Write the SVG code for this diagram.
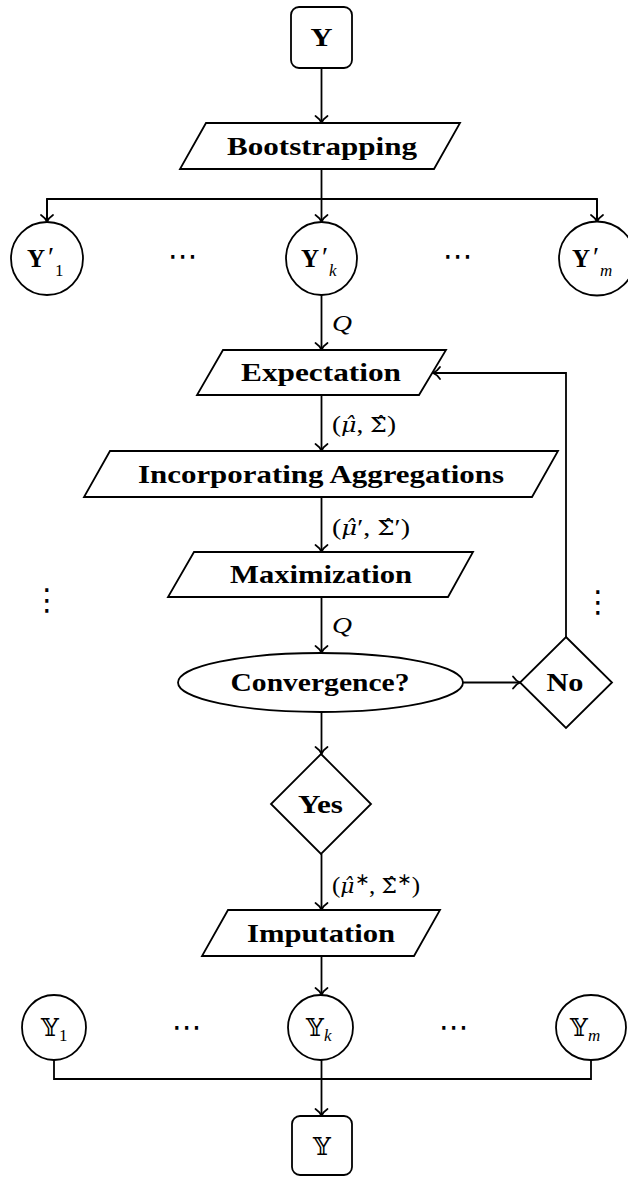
<svg xmlns="http://www.w3.org/2000/svg" width="628" height="1177" viewBox="0 0 628 1177">
<defs>
<marker id="arr" markerUnits="userSpaceOnUse" orient="auto" refX="0" refY="0" markerWidth="20" markerHeight="20" viewBox="-10 -10 20 20" overflow="visible">
<path d="M-7,-6 C-4.5,-2.2 -1.6,-0.6 0,0 C-1.6,0.6 -4.5,2.2 -7,6" fill="none" stroke="#000" stroke-width="1.8" stroke-linecap="round"/>
</marker>
<style>
.sh{fill:#fff;stroke:#000;stroke-width:1.8}
.ln{fill:none;stroke:#000;stroke-width:1.8}
.ar{marker-end:url(#arr)}
.bt{font-family:"Liberation Serif",serif;font-weight:bold;font-size:26px;fill:#000}
.mi{font-family:"Liberation Serif",serif;font-style:italic;font-size:24px;fill:#000}
.mr{font-family:"Liberation Serif",serif;font-size:24px;fill:#000}
.gi{font-family:"DejaVu Serif",serif;font-style:italic;font-size:21px;font-weight:normal}
.gu{font-family:"DejaVu Serif",serif;font-style:normal;font-size:21px;font-weight:normal}
.by{font-family:"Liberation Serif",serif;font-weight:bold;font-size:25px;fill:#000}
.pr{font-family:"Liberation Serif",serif;font-size:28px;font-weight:normal;fill:#000}
.sub{font-family:"Liberation Serif",serif;font-size:17px;font-weight:normal;fill:#000}
.subi{font-family:"Liberation Serif",serif;font-style:italic;font-weight:normal;font-size:17px;fill:#000}
.ds{font-family:"DejaVu Serif","DejaVu Sans",serif;font-size:25px;fill:#000}
.dots{font-family:"DejaVu Sans",sans-serif;font-size:30px;fill:#000}
</style>
</defs>

<g id="connectors">
<line class="ln ar" x1="321.5" y1="68" x2="321.5" y2="123"/>
<polyline class="ln" points="321.5,169 321.5,199"/>
<polyline class="ln" points="47,222 47,199 597,199 597,222"/>
<line class="ln ar" x1="47" y1="199" x2="47" y2="222"/>
<line class="ln ar" x1="321.5" y1="199" x2="321.5" y2="222"/>
<line class="ln ar" x1="597" y1="199" x2="597" y2="222"/>
<line class="ln ar" x1="321.5" y1="295" x2="321.5" y2="350"/>
<line class="ln ar" x1="321.5" y1="395" x2="321.5" y2="451"/>
<line class="ln ar" x1="321.5" y1="497" x2="321.5" y2="552"/>
<line class="ln ar" x1="321.5" y1="597" x2="321.5" y2="653"/>
<line class="ln ar" x1="463" y1="682.5" x2="520" y2="682.5"/>
<polyline class="ln ar" points="566,637 566,373 433,373"/>
<line class="ln ar" x1="321.5" y1="712" x2="321.5" y2="754"/>
<line class="ln ar" x1="321.5" y1="854" x2="321.5" y2="910"/>
<line class="ln ar" x1="321.5" y1="956" x2="321.5" y2="995"/>
<polyline class="ln" points="54,1060 54,1079 591,1079 591,1060"/>
<line class="ln ar" x1="321.5" y1="1060" x2="321.5" y2="1116"/>

<text class="mi" x="332" y="331" textLength="20" lengthAdjust="spacingAndGlyphs">Q</text>
<text class="mr" id="label-mu-sigma" x="332" y="432" textLength="64" lengthAdjust="spacingAndGlyphs">(<tspan class="gi">μ̂</tspan>, <tspan class="gu">Σ̂</tspan>)</text>
<text class="mr" id="label-mu-sigma-prime" x="332" y="535" textLength="78" lengthAdjust="spacingAndGlyphs">(<tspan class="gi">μ̂</tspan>′, <tspan class="gu">Σ̂</tspan>′)</text>
<text class="mi" x="332" y="633" textLength="20" lengthAdjust="spacingAndGlyphs">Q</text>
<text class="mr" id="label-mu-sigma-star" x="332" y="893" textLength="88" lengthAdjust="spacingAndGlyphs">(<tspan class="gi">μ̂</tspan><tspan font-size="17" dy="-8">∗</tspan><tspan dy="8">, </tspan><tspan class="gu">Σ̂</tspan><tspan font-size="17" dy="-8">∗</tspan><tspan dy="8">)</tspan></text>
</g>

<g id="Y">
<rect class="sh" x="291" y="7" width="61" height="61" rx="8"/>
<text class="bt" x="321.5" y="46" text-anchor="middle" textLength="22" lengthAdjust="spacingAndGlyphs">Y</text>
</g>

<g id="bootstrapping">
<polygon class="sh" points="206,123 460,123 434,169 180,169"/>
<text class="bt" x="322" y="155" text-anchor="middle" textLength="190" lengthAdjust="spacingAndGlyphs">Bootstrapping</text>
</g>

<g id="Yp1">
<ellipse class="sh" cx="47" cy="258.5" rx="36" ry="36.5"/>
<text class="by" y="267"><tspan x="27">Y</tspan><tspan class="pr" x="48" y="266">′</tspan><tspan class="sub" x="55" y="276">1</tspan></text>
</g>
<text class="dots" x="183" y="266" text-anchor="middle">⋯</text>
<g id="Ypk">
<ellipse class="sh" cx="321.5" cy="258.5" rx="35.5" ry="36.5"/>
<text class="by" y="267"><tspan x="301">Y</tspan><tspan class="pr" x="322" y="266">′</tspan><tspan class="subi" x="329" y="276">k</tspan></text>
</g>
<text class="dots" x="458" y="266" text-anchor="middle">⋯</text>
<g id="Ypm">
<ellipse class="sh" cx="597" cy="258.5" rx="38" ry="37"/>
<text class="by" y="267"><tspan x="572">Y</tspan><tspan class="pr" x="593" y="266">′</tspan><tspan class="subi" x="600" y="276">m</tspan></text>
</g>

<g id="expectation">
<polygon class="sh" points="223,350 446,350 419,395 197,395"/>
<text class="bt" x="321" y="381" text-anchor="middle" textLength="160" lengthAdjust="spacingAndGlyphs">Expectation</text>
</g>

<g id="incorporating">
<polygon class="sh" points="110,451 558,451 532,497 84,497"/>
<text class="bt" x="321" y="483" text-anchor="middle" textLength="366" lengthAdjust="spacingAndGlyphs">Incorporating Aggregations</text>
</g>

<g id="maximization">
<polygon class="sh" points="194,552 473,552 448,597 168,597"/>
<text class="bt" x="321" y="583" text-anchor="middle" textLength="182" lengthAdjust="spacingAndGlyphs">Maximization</text>
</g>

<text class="dots" x="47" y="610" text-anchor="middle">⋮</text>
<text class="dots" x="598" y="612" text-anchor="middle">⋮</text>

<g id="convergence">
<ellipse class="sh" cx="320.5" cy="682.5" rx="142.5" ry="29.5"/>
<text class="bt" x="320" y="691" text-anchor="middle" textLength="179" lengthAdjust="spacingAndGlyphs">Convergence?</text>
</g>

<g id="no">
<polygon class="sh" points="566,637 612,682.5 566,728 520,682.5"/>
<text class="bt" x="565" y="691" text-anchor="middle" textLength="37" lengthAdjust="spacingAndGlyphs">No</text>
</g>

<g id="yes">
<polygon class="sh" points="321,754 371,804 321,854 271,804"/>
<text class="bt" x="320.5" y="813" text-anchor="middle" textLength="45" lengthAdjust="spacingAndGlyphs">Yes</text>
</g>

<g id="imputation">
<polygon class="sh" points="228,910 440,910 414,956 202,956"/>
<text class="bt" x="321" y="942" text-anchor="middle" textLength="148" lengthAdjust="spacingAndGlyphs">Imputation</text>
</g>

<g id="Y1">
<ellipse class="sh" cx="54" cy="1027.5" rx="32" ry="32.5"/>
<text class="ds" y="1036"><tspan x="41">𝕐</tspan><tspan class="sub" x="59" y="1041">1</tspan></text>
</g>
<text class="dots" x="187" y="1037" text-anchor="middle">⋯</text>
<g id="Yk">
<ellipse class="sh" cx="320.5" cy="1027.5" rx="32.5" ry="32.5"/>
<text class="ds" y="1036"><tspan x="306">𝕐</tspan><tspan class="subi" x="324" y="1041">k</tspan></text>
</g>
<text class="dots" x="454" y="1037" text-anchor="middle">⋯</text>
<g id="Ym">
<ellipse class="sh" cx="591" cy="1027.5" rx="35" ry="32.5"/>
<text class="ds" y="1036"><tspan x="570">𝕐</tspan><tspan class="subi" x="588" y="1041">m</tspan></text>
</g>

<g id="Yfinal">
<rect class="sh" x="292" y="1116" width="60" height="59" rx="8"/>
<text class="ds" x="322" y="1155" text-anchor="middle">𝕐</text>
</g>
</svg>
